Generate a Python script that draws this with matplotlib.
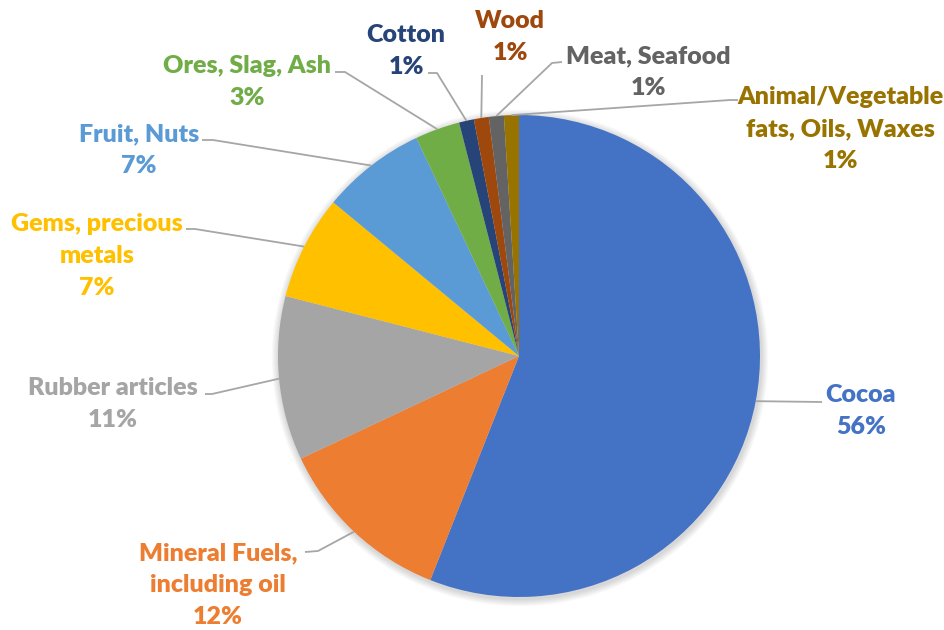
import numpy as np
import matplotlib.pyplot as plt
from matplotlib.patches import Circle

# Export shares by product group
categories = ['Cocoa', 'Mineral Fuels,\nincluding oil', 'Rubber articles',
              'Gems, precious\nmetals', 'Fruit, Nuts', 'Ores, Slag, Ash',
              'Cotton', 'Wood', 'Meat, Seafood',
              'Animal/Vegetable\nfats, Oils, Waxes']
shares = [56, 12, 11, 7, 7, 3, 1, 1, 1, 1]
colors = ['#4472C4', '#ED7D31', '#A5A5A5', '#FFC000', '#5B9BD5',
          '#70AD47', '#264478', '#9E480E', '#636363', '#997300']

# label placement (pixel coords, y downwards): text centre, leader elbow, leader end
label_pos = [(861, 411), (218, 585), (113, 404), (97, 256), (139, 150),
             (247, 82), (406, 51), (510, 37), (648, 72), (840, 129)]
elbows = [(822, 402), (318, 551), (212, 394), (195, 229), (213, 140),
          (345, 72), (437, 73), (482, 75), (552, 63), (730, 100)]
ends = [(822, 402), (305, 552), (205, 394), (186, 229), (202, 140),
        (335, 72), (428, 73), (482, 75), (562, 62), (738, 100)]

W, H = 944, 630
cx, cy, r = 519, H - 356, 241

plt.rcParams['font.family'] = ['Lato', 'DejaVu Sans']
fig = plt.figure(figsize=(9.44, 6.3), dpi=100)
ax = fig.add_axes([0, 0, 1, 1])

# soft shadow under the pie
for i in range(8):
    ax.add_patch(Circle((cx + 1, cy - 2), r + 1 + i * 0.9, color='black',
                        alpha=0.018, lw=0, zorder=0))

wedges, _ = ax.pie(shares, colors=colors, startangle=90, counterclock=False,
                   center=(cx, cy), radius=r, frame=True,
                   wedgeprops=dict(linewidth=0))
ax.set_xlim(0, W)
ax.set_ylim(0, H)
ax.axis('off')

for w, name, val, col, (tx, ty), el, en in zip(wedges, categories, shares, colors,
                                                label_pos, elbows, ends):
    mid = np.deg2rad((w.theta1 + w.theta2) / 2)
    ex, ey = cx + r * np.cos(mid), cy + r * np.sin(mid)
    ax.plot([ex, el[0], en[0]], [ey, H - el[1], H - en[1]], color='#A6A6A6',
            lw=1.3, zorder=1, solid_capstyle='butt')
    ax.text(tx, H - ty, f'{name}\n{val}%', color=col, fontsize=18,
            fontweight='heavy', ha='center', va='center', linespacing=1.55)

fig.savefig('out.png', dpi=100)
